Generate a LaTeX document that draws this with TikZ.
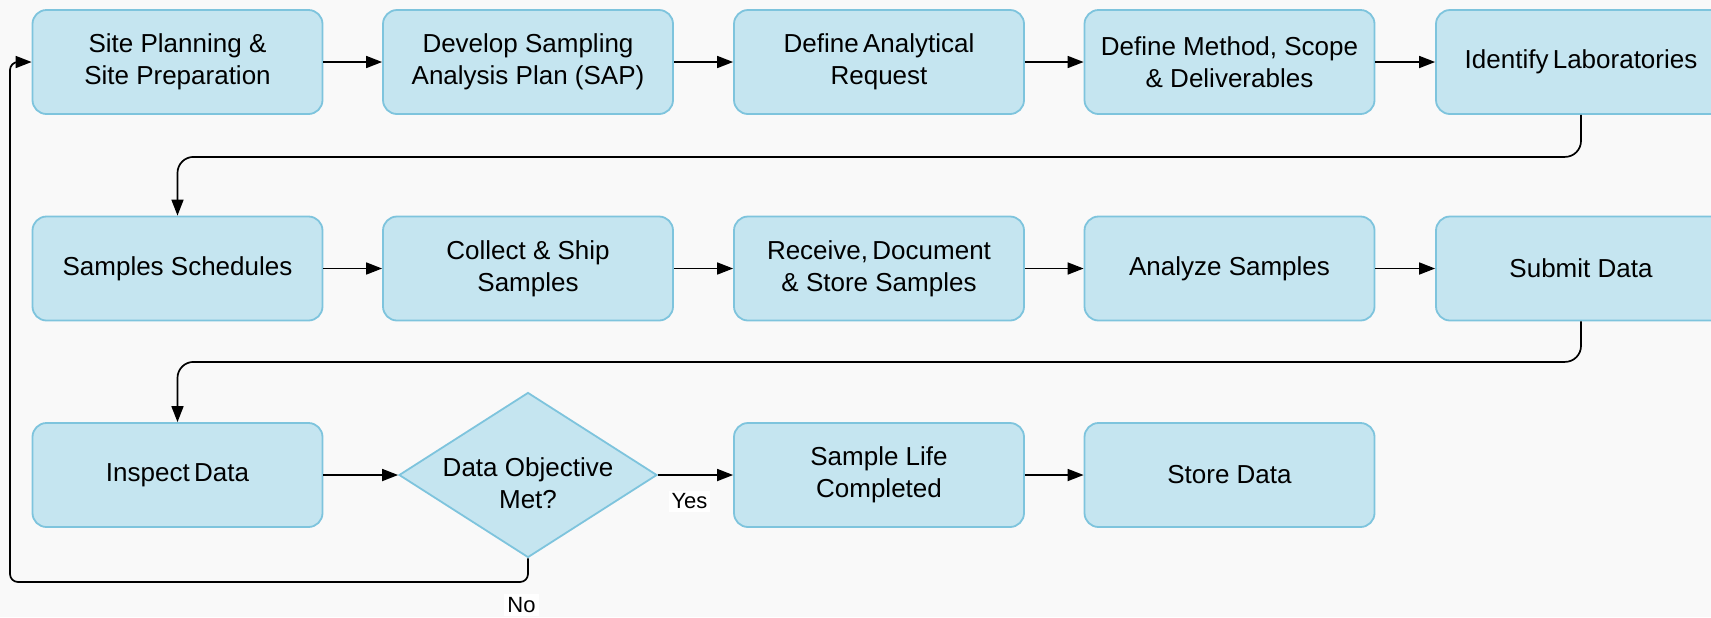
\documentclass[tikz,border=0pt]{standalone}
\usepackage{fontspec}
\setmainfont{Liberation Sans}
\usetikzlibrary{shapes.geometric,arrows.meta}
\definecolor{boxfill}{RGB}{197,229,240}
\definecolor{boxline}{RGB}{126,196,221}
\definecolor{bgcol}{RGB}{249,249,249}
\begin{document}
\begin{tikzpicture}[x=0.5pt,y=-0.5pt,
  stepbox/.style={draw=boxline, line width=0.9pt, fill=boxfill, rounded corners=7pt,
    minimum width=145pt, minimum height=52pt, inner sep=0pt, align=center,
    font=\fontsize{13}{16}\selectfont},
  decision/.style={diamond, draw=boxline, line width=0.9pt, fill=boxfill, inner sep=0pt,
    minimum width=129pt, minimum height=82.5pt},
  dectext/.style={align=center, font=\fontsize{13}{16}\selectfont, inner sep=0pt},
  conn/.style={draw=black, line width=0.85pt, -{Triangle[length=8pt,width=6pt]}},
  lab/.style={fill=white, inner sep=1.5pt, font=\fontsize{11}{13}\selectfont}]
\fill[bgcol] (0,0) rectangle (1711,617);
\useasboundingbox (0,0) rectangle (1711,617);
% row 1
\node[stepbox] (b1) at (177.5,62) {Site Planning \&\\Site Preparation};
\node[stepbox] (b2) at (528,62) {Develop Sampling\\Analysis Plan (SAP)};
\node[stepbox] (b3) at (879,62) {Define\,Analytical\\Request};
\node[stepbox] (b4) at (1229.5,62) {Define Method, Scope\\\& Deliverables};
\node[stepbox] (b5) at (1581,62) {Identify\,Laboratories};
% row 2
\node[stepbox] (c1) at (177.5,268.5) {Samples Schedules};
\node[stepbox] (c2) at (528,268.5) {Collect \& Ship\\Samples};
\node[stepbox] (c3) at (879,268.5) {Receive,\,Document\\\& Store Samples};
\node[stepbox] (c4) at (1229.5,268.5) {Analyze Samples};
\node[stepbox] (c5) at (1581,268.5) {Submit Data};
% row 3
\node[stepbox] (d1) at (177.5,475) {Inspect\,Data};
\node[decision] (dec) at (528,475) {};
\node[dectext] (dect) at (528,483) {Data Objective\\Met?};
\node[stepbox] (e1) at (879,475) {Sample Life\\Completed};
\node[stepbox] (e2) at (1229.5,475) {Store Data};
% connectors
\draw[conn] (b1) -- (b2);
\draw[conn] (b2) -- (b3);
\draw[conn] (b3) -- (b4);
\draw[conn] (b4) -- (b5);
\draw[conn] (c1) -- (c2);
\draw[conn] (c2) -- (c3);
\draw[conn] (c3) -- (c4);
\draw[conn] (c4) -- (c5);
\draw[conn, rounded corners=8pt] (b5.south) -- ++(0,42) -| (c1.north);
\draw[conn, rounded corners=8pt] (c5.south) -- ++(0,40.5) -| (d1.north);
\draw[conn] (d1.east) -- (dec.west);
\draw[conn] (dec.east) -- (e1.west);
\draw[conn] (e1) -- (e2);
\coordinate (lp) at (10,582);
\draw[conn, rounded corners=4pt] (dec.south) |- (lp) |- (b1.west);
% labels
\node[lab] (yes) at (689.5,501.5) {Yes};
\node[lab] (no) at (521.5,605) {No};
\end{tikzpicture}
\end{document}
